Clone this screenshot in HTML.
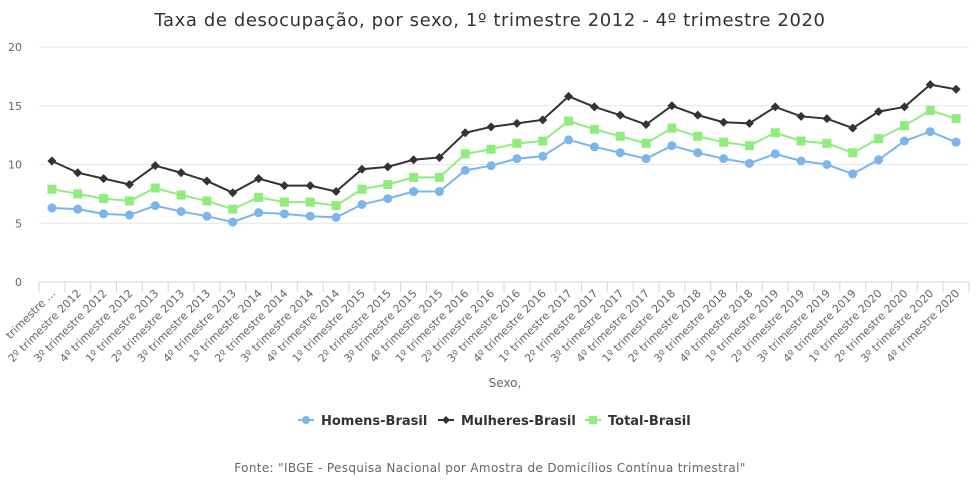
<!DOCTYPE html>
<html><head><meta charset="utf-8"><style>
body{margin:0;background:#fff;}
svg{display:block;font-family:"DejaVu Sans","Liberation Sans",sans-serif;}
</style></head><body>
<svg id="chart" width="980" height="484" viewBox="0 0 980 484">
<text x="490" y="26" text-anchor="middle" font-size="18" letter-spacing="0.6" fill="#333">Taxa de desocupação, por sexo, 1º trimestre 2012 - 4º trimestre 2020</text>
<g id="grid"></g><g id="xaxis"></g><g id="series"></g>
<text x="505" y="387" text-anchor="middle" font-size="12" fill="#666">Sexo,</text>
<g>
<g><line x1="298" y1="420" x2="314" y2="420" stroke="#7cb5ec" stroke-width="2"/><circle cx="306" cy="420" r="4" fill="#7cb5ec"/><text x="321" y="425" font-size="13" font-weight="bold" fill="#333">Homens-Brasil</text></g>
<g><line x1="438" y1="420" x2="454" y2="420" stroke="#333" stroke-width="2"/><path d="M446 416 L450 420 L446 424 L442 420Z" fill="#333"/><text x="461" y="425" font-size="13" font-weight="bold" fill="#333">Mulheres-Brasil</text></g>
<g><line x1="585" y1="420" x2="601" y2="420" stroke="#90ed7d" stroke-width="2"/><rect x="589" y="416" width="8" height="8" fill="#90ed7d"/><text x="608" y="425" font-size="13" font-weight="bold" fill="#333">Total-Brasil</text></g>
</g>
<text x="490" y="472" text-anchor="middle" font-size="12" letter-spacing="0.35" fill="#666">Fonte: "IBGE - Pesquisa Nacional por Amostra de Domicílios Contínua trimestral"</text>
</svg>
<script>
const categories=[];for(let y=2012;y<=2020;y++)for(let q=1;q<=4;q++)categories.push(q+"º trimestre "+y);
const homens=[6.3,6.2,5.8,5.7,6.5,6.0,5.6,5.1,5.9,5.8,5.6,5.5,6.6,7.1,7.7,7.7,9.5,9.9,10.5,10.7,12.1,11.5,11.0,10.5,11.6,11.0,10.5,10.1,10.9,10.3,10.0,9.2,10.4,12.0,12.8,11.9];
const mulheres=[10.3,9.3,8.8,8.3,9.9,9.3,8.6,7.6,8.8,8.2,8.2,7.7,9.6,9.8,10.4,10.6,12.7,13.2,13.5,13.8,15.8,14.9,14.2,13.4,15.0,14.2,13.6,13.5,14.9,14.1,13.9,13.1,14.5,14.9,16.8,16.4];
const total=[7.9,7.5,7.1,6.9,8.0,7.4,6.9,6.2,7.2,6.8,6.8,6.5,7.9,8.3,8.9,8.9,10.9,11.3,11.8,12.0,13.7,13.0,12.4,11.8,13.1,12.4,11.9,11.6,12.7,12.0,11.8,11.0,12.2,13.3,14.6,13.9];
const yTicks=[0,5,10,15,20];
const NS="http://www.w3.org/2000/svg";
const x0=39,x1=969,yB=282,yT=47,yMax=20;
const step=(x1-x0)/categories.length;
const xs=i=>x0+step*(i+0.5);
const ys=v=>yB-(v/yMax)*(yB-yT);
function mk(t,a,p){const e=document.createElementNS(NS,t);for(const k in a)e.setAttribute(k,a[k]);p.appendChild(e);return e;}
const grid=document.getElementById('grid');
yTicks.forEach(v=>{
const l=mk('line',{x1:x0,x2:x1,y1:ys(v),y2:ys(v),stroke:v===0?'#ccd6eb':'#e6e6e6','stroke-width':1},grid);


const t=mk('text',{x:22,y:ys(v)+4,'text-anchor':'end','font-size':11,fill:'#666'},grid);
t.textContent=v;


});
const xa=document.getElementById('xaxis');
for(let i=0;i<=categories.length;i++){
const tk=mk('line',{x1:x0+step*i,x2:x0+step*i,y1:yB,y2:yB+10,stroke:'#ccd6eb'},xa);


}
categories.forEach((c,i)=>{
const x=xs(i)+4,y=yB+12;
const t=mk('text',{x:x,y:y,'text-anchor':'end','font-size':11,fill:'#666',transform:`rotate(-45 ${x} ${y})`},xa);
t.textContent=i===0?"trimestre ...":c;


});
const sg=document.getElementById('series');
function series(data,color,shape,name){
const g=mk('g',{},sg);


const p=mk('polyline',{points:data.map((v,i)=>xs(i)+','+ys(v)).join(' '),fill:'none',stroke:color,'stroke-width':2},g);


data.forEach((v,i)=>{
const cx=xs(i),cy=ys(v);let m;
if(shape==='c')m=mk('circle',{cx:cx,cy:cy,r:4.5,fill:color},g);
else if(shape==='d')m=mk('path',{d:`M${cx} ${cy-4.5}L${cx+4.5} ${cy}L${cx} ${cy+4.5}L${cx-4.5} ${cy}Z`,fill:color},g);
else m=mk('rect',{x:cx-4.5,y:cy-4.5,width:9,height:9,fill:color},g);


});
}
series(homens,'#7cb5ec','c','homens-series');
series(total,'#90ed7d','s','total-series');
series(mulheres,'#333333','d','mulheres-series');
</script>
</body></html>
